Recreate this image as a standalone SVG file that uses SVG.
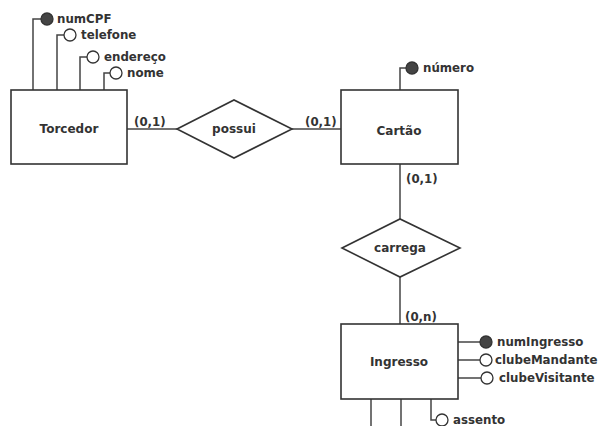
<svg xmlns="http://www.w3.org/2000/svg" width="602" height="426" viewBox="0 0 602 426">
<style>
.ln{fill:none;stroke:#444;stroke-width:1.5}
.box{fill:#fff;stroke:#333;stroke-width:1.6}
.attr{fill:#fff;stroke:#333;stroke-width:1.3}
.key{fill:#444;stroke:#333;stroke-width:1.3}
text{font-family:"DejaVu Sans","Verdana",sans-serif;font-weight:bold;fill:#333}
.nm{font-size:12px;text-anchor:middle}
.lb{font-size:11.8px}
.cd{font-size:11.8px}
</style>
<rect width="602" height="426" fill="#fff"/>
<g id="connectors">
  <polyline class="ln" points="33,90 33,19 41,19"/>
  <polyline class="ln" points="57,90 57,35 64,35"/>
  <polyline class="ln" points="80,90 80,57 87,57"/>
  <polyline class="ln" points="104,90 104,73 110,73"/>
  <line class="ln" x1="127" y1="129" x2="177" y2="129"/>
  <line class="ln" x1="292" y1="129" x2="341" y2="129"/>
  <polyline class="ln" points="400,90 400,68 406,68"/>
  <line class="ln" x1="400" y1="164" x2="400" y2="219"/>
  <line class="ln" x1="400" y1="277" x2="400" y2="324"/>
  <line class="ln" x1="458" y1="342" x2="480" y2="342"/>
  <line class="ln" x1="458" y1="360" x2="480" y2="360"/>
  <line class="ln" x1="458" y1="378" x2="481" y2="378"/>
  <line class="ln" x1="371" y1="399" x2="371" y2="426"/>
  <line class="ln" x1="401" y1="399" x2="401" y2="426"/>
  <polyline class="ln" points="431,399 431,420 436,420"/>
  <text class="cd" x="134" y="126">(0,1)</text>
  <text class="cd" x="305" y="126">(0,1)</text>
  <text class="cd" x="406" y="183">(0,1)</text>
  <text class="cd" x="405" y="321">(0,n)</text>
</g>
<g id="Torcedor">
  <rect class="box" x="11" y="90" width="116" height="74"/>
  <text class="nm" x="69" y="133">Torcedor</text>
</g>
<g id="numCPF">
  <circle class="key" cx="47" cy="19" r="6"/>
  <text class="lb" x="57" y="23">numCPF</text>
</g>
<g id="telefone">
  <circle class="attr" cx="70" cy="35" r="6"/>
  <text class="lb" x="81" y="39">telefone</text>
</g>
<g id="endereco">
  <circle class="attr" cx="93" cy="57" r="6"/>
  <text class="lb" x="104" y="61">endereço</text>
</g>
<g id="nome">
  <circle class="attr" cx="116" cy="73" r="6"/>
  <text class="lb" x="127" y="77">nome</text>
</g>
<g id="possui">
  <polygon class="box" points="177,129 234,100 292,129 234,158"/>
  <text class="nm" x="234" y="133">possui</text>
</g>
<g id="Cartao">
  <rect class="box" x="341" y="90" width="117" height="74"/>
  <text class="nm" x="399" y="135">Cartão</text>
</g>
<g id="numero">
  <circle class="key" cx="412" cy="68" r="6"/>
  <text class="lb" x="423" y="72">número</text>
</g>
<g id="carrega">
  <polygon class="box" points="342,248 400,219 460,248 400,277"/>
  <text class="nm" x="400" y="252">carrega</text>
</g>
<g id="Ingresso">
  <rect class="box" x="341" y="324" width="117" height="75"/>
  <text class="nm" x="399" y="366">Ingresso</text>
</g>
<g id="numIngresso">
  <circle class="key" cx="486" cy="342" r="6"/>
  <text class="lb" x="497" y="346">numIngresso</text>
</g>
<g id="clubeMandante">
  <circle class="attr" cx="486" cy="360" r="6"/>
  <text class="lb" x="495" y="364">clubeMandante</text>
</g>
<g id="clubeVisitante">
  <circle class="attr" cx="487" cy="378" r="6"/>
  <text class="lb" x="499" y="382">clubeVisitante</text>
</g>
<g id="assento">
  <circle class="attr" cx="442" cy="420" r="6"/>
  <text class="lb" x="453" y="424">assento</text>
</g>
</svg>
